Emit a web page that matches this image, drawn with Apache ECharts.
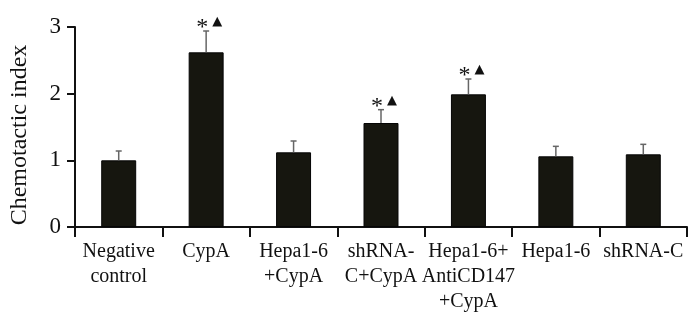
<!DOCTYPE html>
<html>
<head>
<meta charset="utf-8">
<script src="https://cdn.jsdelivr.net/npm/echarts@6/dist/echarts.min.js"></script>
<style>
  html, body { margin: 0; padding: 0; background: #fff; }
  #chart { width: 700px; height: 326px; }
</style>
</head>
<body>
<div id="chart"></div>
<script>
// groups on the x axis
const categories = ['Negative\ncontrol', 'CypA', 'Hepa1-6\n+CypA', 'shRNA-\nC+CypA', 'Hepa1-6+\nAntiCD147\n+CypA', 'Hepa1-6', 'shRNA-C']
// mean chemotactic index
const means = [1.00, 2.62, 1.12, 1.56, 1.99, 1.06, 1.09]
// SD (upper error bar only)
const errors = [0.14, 0.32, 0.17, 0.20, 0.23, 0.15, 0.15]
// significance marks over bars
const marks = ['', '*▲', '', '*▲', '*▲', '', '']
const yTicks = [0, 1, 2, 3]

const serif = '"Times New Roman", "Liberation Serif", serif'
const chart = echarts.init(document.getElementById('chart'))

chart.setOption({
  animation: false,
  grid: { left: 73, right: 13, top: 27, bottom: 99 },
  xAxis: {
    type: 'category',
    data: categories,
    axisLine: { lineStyle: { color: '#111', width: 2 } },
    axisTick: { show: true, length: 10, interval: 0, lineStyle: { color: '#111', width: 2 } },
    axisLabel: {
      color: '#111',
      fontFamily: serif,
      fontSize: 20,
      lineHeight: 25,
      margin: 12,
      interval: 0
    }
  },
  yAxis: {
    type: 'value',
    min: yTicks[0],
    max: yTicks[yTicks.length - 1],
    interval: 1,
    name: 'Chemotactic index',
    nameLocation: 'middle',
    nameGap: 43,
    nameTextStyle: { color: '#111', fontFamily: serif, fontSize: 24, padding: [0, 16, 0, 0] },
    splitLine: { show: false },
    axisLine: { show: true, lineStyle: { color: '#111', width: 2 } },
    axisTick: { show: true, length: 8, lineStyle: { color: '#111', width: 2 } },
    axisLabel: { color: '#111', fontFamily: serif, fontSize: 23, margin: 14 }
  },
  series: [
    {
      type: 'bar',
      data: means,
      barWidth: '40%',
      itemStyle: { color: '#16160f', borderColor: '#050505', borderWidth: 1 }
    },
    {
      type: 'custom',
      data: means.map((m, i) => [i, m + errors[i], m]),
      encode: { x: 0, y: 1 },
      z: 3,
      renderItem(params, api) {
        const i = api.value(0)
        const top = api.coord([i, api.value(1)])
        const base = api.coord([i, api.value(2)])
        const children = [
          { type: 'line', shape: { x1: base[0], y1: base[1], x2: top[0], y2: top[1] }, style: { stroke: '#666', lineWidth: 1.5 } },
          { type: 'line', shape: { x1: top[0] - 3, y1: top[1], x2: top[0] + 3, y2: top[1] }, style: { stroke: '#666', lineWidth: 1.5 } }
        ]
        const mk = marks[params.dataIndex]
        if (mk) {
          children.push({
            type: 'text',
            style: { text: mk[0], x: top[0] - 4, y: top[1] - 3, fill: '#111', font: '24px ' + serif, align: 'center', verticalAlign: 'middle' }
          })
          children.push({
            type: 'text',
            style: { text: mk[1], x: top[0] + 11, y: top[1] - 9, fill: '#111', font: '13px "DejaVu Sans", sans-serif', align: 'center', verticalAlign: 'middle' }
          })
        }
        return { type: 'group', children }
      }
    }
  ]
})
</script>
</body>
</html>
